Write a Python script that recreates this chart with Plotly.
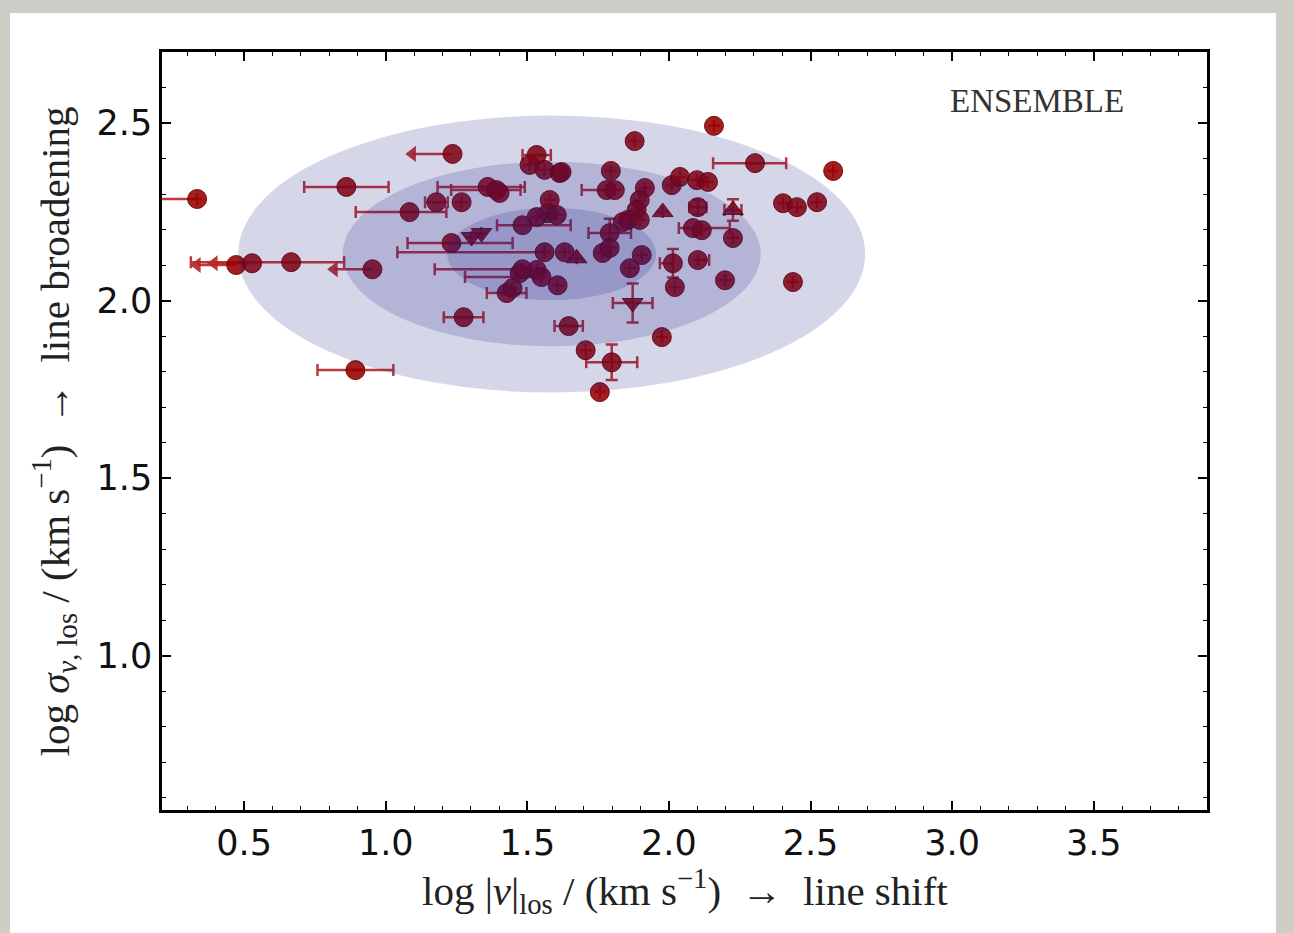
import plotly.graph_objects as go

# ---- measured points (log |v|_los, log sigma_v,los) with asymmetric errors ----
circ_x = [0.334, 0.861, 1.084, 1.179, 1.268, 0.893, 1.275, 0.666, 1.360, 1.391,
          1.402, 1.533, 1.508, 1.561, 1.614, 1.795, 2.304, 2.580, 2.159, 1.879,
          1.780, 1.809, 1.915, 2.010, 2.039, 2.099, 2.138, 1.579, 1.572, 1.533,
          1.483, 1.897, 1.886, 1.855, 1.837, 2.102, 2.403, 2.452, 2.523, 1.604,
          2.085, 2.116, 2.226, 1.791, 1.232, 1.561, 1.632, 1.766, 1.791, 1.904,
          2.102, 2.014, 1.862, 1.473, 1.533, 1.483, 1.550, 2.198, 2.438, 2.021,
          1.607, 1.427, 1.448, 1.646, 1.975, 1.706, 1.798, 1.756, 1.897, 1.621]
circ_y = [2.286, 2.320, 2.249, 2.277, 2.277, 1.804, 1.953, 2.108, 2.320, 2.311,
          2.303, 2.410, 2.382, 2.368, 2.359, 2.365, 2.387, 2.365, 2.492, 2.449,
          2.311, 2.311, 2.317, 2.325, 2.348, 2.339, 2.334, 2.283, 2.246, 2.235,
          2.212, 2.283, 2.255, 2.227, 2.221, 2.263, 2.274, 2.263, 2.277, 2.241,
          2.204, 2.198, 2.176, 2.190, 2.162, 2.136, 2.136, 2.134, 2.148, 2.128,
          2.114, 2.105, 2.091, 2.077, 2.086, 2.088, 2.066, 2.057, 2.052, 2.038,
          2.043, 2.021, 2.035, 1.928, 1.897, 1.860, 1.826, 1.742, 2.227, 2.362]
circ_xm = [0.16, 0.149, 0.19, 0.04, 0.0, 0.134, 0.07, 0.354, 0.177, 0.16,
           0.0, 0.05, 0.0, 0.0, 0.0, 0.0, 0.148, 0.0, 0.0, 0.0,
           0.088, 0.0, 0.0, 0.0, 0.0, 0.0, 0.0, 0.0, 0.0, 0.0,
           0.09, 0.0, 0.0, 0.0, 0.0, 0.03, 0.0, 0.0, 0.0, 0.0,
           0.05, 0.0, 0.0, 0.075, 0.155, 0.52, 0.0, 0.0, 0.0, 0.0,
           0.0, 0.046, 0.0, 0.0, 0.0, 0.31, 0.27, 0.0, 0.0, 0.0,
           0.0, 0.07, 0.0, 0.05, 0.0, 0.0, 0.09, 0.0, 0.0, 0.0]
circ_xp = [0.0, 0.149, 0.13, 0.04, 0.0, 0.134, 0.07, 0.187, 0.131, 0.085,
           0.0, 0.05, 0.0, 0.0, 0.0, 0.0, 0.11, 0.0, 0.0, 0.0,
           0.0, 0.0, 0.0, 0.0, 0.0, 0.0, 0.0, 0.0, 0.0, 0.0,
           0.17, 0.0, 0.0, 0.0, 0.0, 0.03, 0.0, 0.0, 0.0, 0.0,
           0.13, 0.0, 0.0, 0.075, 0.216, 0.0, 0.0, 0.0, 0.0, 0.0,
           0.04, 0.0, 0.0, 0.0, 0.0, 0.0, 0.0, 0.0, 0.0, 0.0,
           0.0, 0.07, 0.0, 0.05, 0.0, 0.0, 0.09, 0.0, 0.0, 0.0]
# vertical errors (symmetric), nonzero only for a few points
circ_ye = [0.0] * len(circ_x)
circ_ye[35] = 0.02
circ_ye[43] = 0.04
circ_ye[51] = 0.04
circ_ye[66] = 0.05

# triangles (up / down markers)
tri_up_x = [1.978, 1.674, 2.226]
tri_up_y = [2.249, 2.119, 2.255]
tri_up_xe = [0.0, 0.0, 0.03]
tri_up_ye = [0.0, 0.0, 0.03]

tri_dn_x = [1.303, 1.338, 1.872]
tri_dn_y = [2.179, 2.190, 1.993]
tri_dn_xe = [0.0, 0.0, 0.07]
tri_dn_ye = [0.0, 0.0, 0.055]

# upper limits in line shift: point and arrow tip
ul_x = [0.472, 0.528, 0.953, 1.236]
ul_y = [2.100, 2.105, 2.088, 2.413]
ul_tip = [0.334, 0.394, 0.818, 1.094]

# ensemble distribution ellipses (1, 2, 3 sigma)
ell_cx = 1.586
ell_cy = 2.131
ell_sx = 0.369
ell_sy = 0.130
ell_nsig = [3, 2, 1]

PT = "rgba(150,0,0,0.88)"
PT_EDGE = "rgba(110,0,0,0.9)"
ERR = "rgba(185,35,35,0.9)"


def err(m, p, width=6):
    return dict(type="data", symmetric=False, array=p, arrayminus=m,
                color=ERR, thickness=2.5, width=width)


fig = go.Figure()

fig.add_trace(go.Scatter(
    x=circ_x, y=circ_y, mode="markers",
    marker=dict(symbol="circle", size=19, color=PT, line=dict(color=PT_EDGE, width=1)),
    error_x=err(circ_xm, circ_xp), error_y=err(circ_ye, circ_ye),
    showlegend=False))

fig.add_trace(go.Scatter(
    x=tri_up_x, y=tri_up_y, mode="markers",
    marker=dict(symbol="triangle-up", size=18, color=PT, line=dict(color=PT_EDGE, width=1)),
    error_x=err(tri_up_xe, tri_up_xe), error_y=err(tri_up_ye, tri_up_ye),
    showlegend=False))

fig.add_trace(go.Scatter(
    x=tri_dn_x, y=tri_dn_y, mode="markers",
    marker=dict(symbol="triangle-down", size=18, color=PT, line=dict(color=PT_EDGE, width=1)),
    error_x=err(tri_dn_xe, tri_dn_xe), error_y=err(tri_dn_ye, tri_dn_ye),
    showlegend=False))

# upper limits: circle, shaft to the left and arrow head
ul_len = [a - b for a, b in zip(ul_x, ul_tip)]
fig.add_trace(go.Scatter(
    x=ul_x, y=ul_y, mode="markers",
    marker=dict(symbol="circle", size=19, color=PT, line=dict(color=PT_EDGE, width=1)),
    error_x=err(ul_len, [0.0] * len(ul_x), width=0),
    showlegend=False))
fig.add_trace(go.Scatter(
    x=ul_tip, y=ul_y, mode="markers",
    marker=dict(symbol="triangle-left", size=14, color=ERR, line=dict(width=0)),
    showlegend=False))

shapes = []
# white panel on the grey page
shapes.append(dict(type="rect", xref="paper", yref="paper",
                   x0=-0.1455, x1=1.066, y0=-0.175, y1=1.0515,
                   fillcolor="white", line=dict(width=0), layer="below"))
for n in ell_nsig:
    shapes.append(dict(type="circle", xref="x", yref="y",
                       x0=ell_cx - n * ell_sx, x1=ell_cx + n * ell_sx,
                       y0=ell_cy - n * ell_sy, y1=ell_cy + n * ell_sy,
                       fillcolor="rgba(25,30,135,0.18)", line=dict(width=0),
                       layer="above"))

TICKFONT = dict(family="DejaVu Sans", size=35, color="#111")
SERIF = "Liberation Serif"
ARROW = "&nbsp;&nbsp;→&nbsp;&nbsp;"

fig.update_layout(
    width=1294, height=933,
    margin=dict(l=162, r=87, t=52, b=123),
    paper_bgcolor="#cdcec6",
    plot_bgcolor="rgba(0,0,0,0)",
    shapes=shapes,
    xaxis=dict(range=[0.21, 3.9], tick0=0.5, dtick=0.5, tickformat=".1f",
               ticks="inside", ticklen=9, tickwidth=1.5, tickcolor="black",
               minor=dict(ticks="inside", ticklen=4, dtick=0.1, tickcolor="black", tickwidth=1),
               showline=True, linewidth=2.5, linecolor="black", mirror="allticks",
               showgrid=False, zeroline=False, tickfont=TICKFONT),
    yaxis=dict(range=[0.565, 2.7], tick0=1.0, dtick=0.5, tickformat=".1f",
               ticks="inside", ticklen=9, tickwidth=1.5, tickcolor="black",
               minor=dict(ticks="inside", ticklen=4, dtick=0.1, tickcolor="black", tickwidth=1),
               showline=True, linewidth=2.5, linecolor="black", mirror="allticks",
               showgrid=False, zeroline=False, tickfont=TICKFONT),
    annotations=[
        dict(text="ENSEMBLE", x=3.30, y=2.562, xref="x", yref="y",
             showarrow=False, font=dict(family=SERIF, size=33, color="#333")),
        dict(text="log |<i>v</i>|<sub>los</sub> / (km s<sup>−1</sup>)" + ARROW + "line shift",
             x=0.5, y=-0.107, xref="paper", yref="paper", xanchor="center", yanchor="middle",
             showarrow=False, font=dict(family=SERIF, size=41, color="#222")),
        dict(text="log <i>σ</i><sub><i>v</i>, los</sub> / (km s<sup>−1</sup>)" + ARROW + "line broadening",
             x=-0.103, y=0.5, xref="paper", yref="paper", xanchor="center", yanchor="middle",
             textangle=-90, showarrow=False, font=dict(family=SERIF, size=41, color="#222")),
    ],
)

fig.write_html("out.html")
